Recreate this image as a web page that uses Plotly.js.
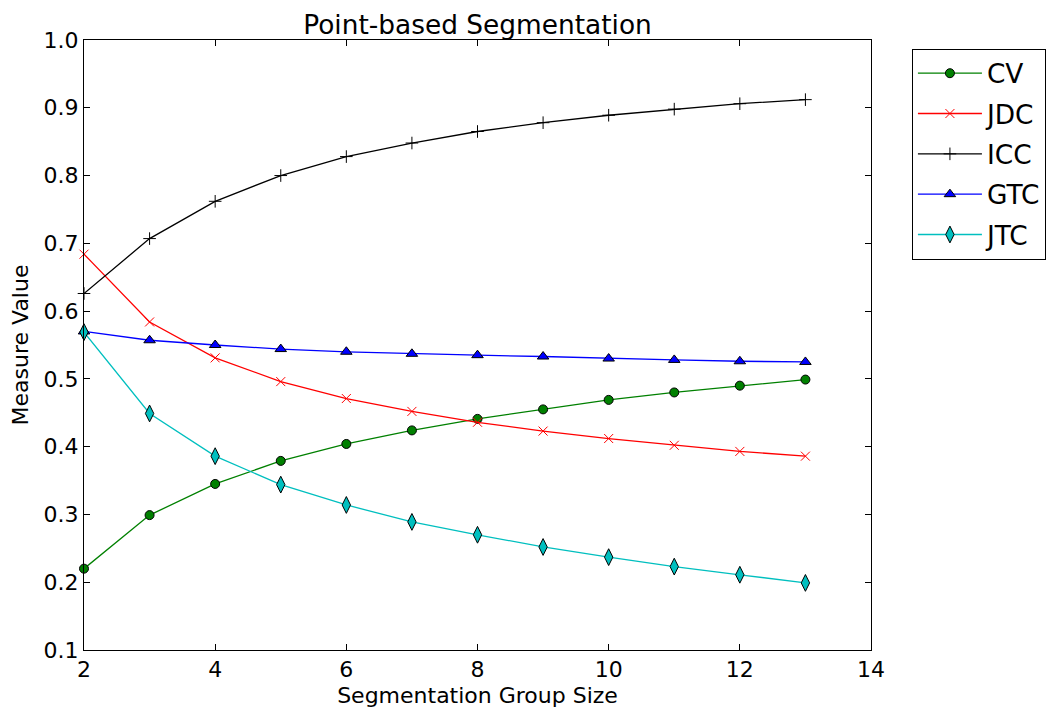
<!DOCTYPE html>
<html>
<head>
<meta charset="utf-8">
<script src="https://cdn.plot.ly/plotly-3.0.1.min.js"></script>
<style>
  html, body { margin: 0; padding: 0; background: #fff; }
  #chart { width: 1062px; height: 711px; }
</style>
</head>
<body>
<div id="chart"></div>
<script>
// Segmentation group sizes (x axis)
const groupSize = [2, 3, 4, 5, 6, 7, 8, 9, 10, 11, 12, 13];

// Measure values per group size
const cvValues  = [0.220, 0.299, 0.345, 0.379, 0.404, 0.424, 0.441, 0.455, 0.469, 0.480, 0.490, 0.499];
const jdcValues = [0.684, 0.584, 0.531, 0.496, 0.471, 0.452, 0.436, 0.423, 0.412, 0.402, 0.393, 0.386];
const iccValues = [0.626, 0.707, 0.762, 0.800, 0.828, 0.848, 0.865, 0.878, 0.889, 0.898, 0.906, 0.912];
const gtcValues = [0.570, 0.557, 0.550, 0.544, 0.540, 0.537, 0.535, 0.533, 0.530, 0.528, 0.526, 0.525];
const jtcValues = [0.569, 0.449, 0.386, 0.344, 0.314, 0.289, 0.270, 0.252, 0.237, 0.223, 0.211, 0.199];

const xTicks = [2, 4, 6, 8, 10, 12, 14];
const yTicks = [0.1, 0.2, 0.3, 0.4, 0.5, 0.6, 0.7, 0.8, 0.9, 1.0];

const FONT = 'DejaVu Sans, sans-serif';

function series(name, values, color, symbol, size, filled) {
  return {
    x: groupSize,
    y: values,
    name: name,
    legendgroup: name,
    type: 'scatter',
    mode: 'lines+markers',
    line: { color: color, width: 1.3 },
    marker: {
      symbol: symbol,
      size: size,
      color: color,
      line: { color: filled ? '#000000' : color, width: 1 }
    },
    cliponaxis: false
  };
}

const traces = [
  series('CV',  cvValues,  '#008000', 'circle',        9,  true),
  series('JDC', jdcValues, '#ff0000', 'x-thin',        9,  false),
  series('ICC', iccValues, '#000000', 'cross-thin',    9,  false),
  series('GTC', gtcValues, '#0000ff', 'triangle-up',   10, true),
  series('JTC', jtcValues, '#00bfbf', 'diamond-tall',  12, true)
];

const axisCommon = {
  showline: true,
  linecolor: '#000000',
  linewidth: 1,
  mirror: 'ticks',
  ticks: 'inside',
  ticklen: 6,
  tickwidth: 1,
  tickcolor: '#000000',
  showgrid: false,
  zeroline: false,
  tickfont: { family: FONT, size: 22, color: '#000000' }
};

const layout = {
  width: 1062,
  height: 711,
  paper_bgcolor: '#ffffff',
  plot_bgcolor: '#ffffff',
  margin: { l: 84, r: 191, t: 40, b: 61 },
  title: {
    text: 'Point-based Segmentation',
    font: { family: FONT, size: 26.4, color: '#000000' },
    x: 0.5, xref: 'paper', xanchor: 'center',
    y: 1, yref: 'paper', yanchor: 'bottom', pad: { b: 6 }
  },
  xaxis: Object.assign({}, axisCommon, {
    range: [2, 14],
    tickvals: xTicks,
    ticktext: xTicks.map(String),
    title: { text: 'Segmentation Group Size', font: { family: FONT, size: 22, color: '#000000' }, standoff: 6 }
  }),
  yaxis: Object.assign({}, axisCommon, {
    range: [0.1, 1.0],
    tickvals: yTicks,
    ticktext: yTicks.map(v => v.toFixed(1)),
    title: { text: 'Measure Value', font: { family: FONT, size: 22, color: '#000000' }, standoff: 8 }
  }),
  legend: {
    x: 1.052, y: 0.986, xanchor: 'left', yanchor: 'top',
    xref: 'paper', yref: 'paper',
    bgcolor: '#ffffff',
    bordercolor: '#000000',
    borderwidth: 1,
    font: { family: FONT, size: 26.4, color: '#000000' },
    traceorder: 'grouped',
    tracegroupgap: 3,
    itemwidth: 64
  },
  showlegend: true
};

Plotly.newPlot('chart', traces, layout, { displayModeBar: false, staticPlot: true });
</script>
</body>
</html>
